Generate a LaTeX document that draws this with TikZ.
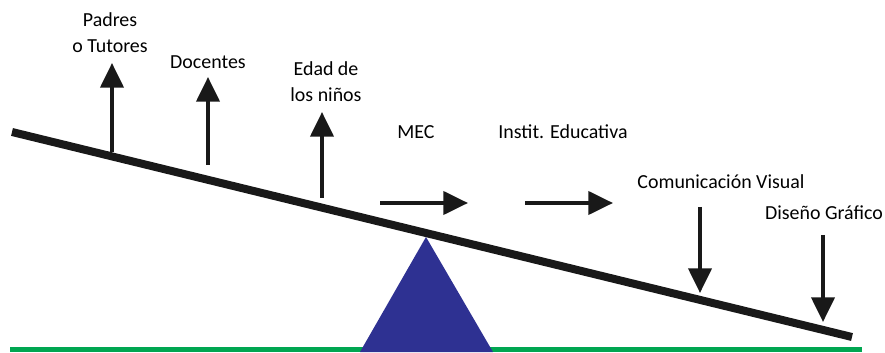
\documentclass[tikz,border=0pt]{standalone}
\usepackage{fontspec}
\setmainfont{Carlito}
\usetikzlibrary{arrows.meta}
\definecolor{fulcrum}{RGB}{46,49,146}
\definecolor{ground}{RGB}{0,166,81}

\begin{document}
\begin{tikzpicture}[>={Triangle[length=0.74cm,width=0.69cm]},line cap=butt,
  force/.style={->,line width=0.12cm,black!90},
  lbl/.style={font=\fontsize{17}{22.2}\selectfont,align=center,inner sep=0pt}]
\useasboundingbox (0,0) rectangle (26.55,10.56);
% ground and fulcrum
\draw[ground,line width=0.15cm] (0.3,0.075) -- (25.86,0.075);
\fill[fulcrum] (10.8,0) -- (12.78,3.45) -- (14.79,0) -- cycle;
% beam
\draw[black!90,line width=0.24cm] (0.36,6.6) -- (25.56,0.45);
% labels
\node[lbl] (padres) at (3.30,9.585) {Padres\\o Tutores};
\node[lbl] (docentes) at (6.24,8.70) {Docentes};
\node[lbl] (edad) at (9.78,8.115) {Edad de\\los niños};
\node[lbl] (mec) at (12.48,6.60) {MEC};
\node[lbl] (instit) at (16.89,6.60) {Instit. Educativa};
\node[lbl] (comvis) at (21.63,5.10) {Comunicación Visual};
\node[lbl] (diseno) at (24.72,4.17) {Diseño Gráfico};
% arrow ends
\coordinate (padres-a) at (3.36,6.00);   \coordinate (padres-b) at (3.36,8.67);
\coordinate (docentes-a) at (6.24,5.61); \coordinate (docentes-b) at (6.24,8.25);
\coordinate (edad-a) at (9.66,4.62);     \coordinate (edad-b) at (9.66,7.20);
\coordinate (mec-a) at (11.40,4.47);     \coordinate (mec-b) at (14.04,4.47);
\coordinate (instit-a) at (15.75,4.47);  \coordinate (instit-b) at (18.39,4.47);
\coordinate (comvis-a) at (21.00,4.35);  \coordinate (comvis-b) at (21.00,1.77);
\coordinate (diseno-a) at (24.69,3.51);  \coordinate (diseno-b) at (24.69,0.90);
% forces
\foreach \f in {padres,docentes,edad,mec,instit,comvis,diseno}
  \draw[force] (\f-a) -- (\f-b);
\end{tikzpicture}
\end{document}
